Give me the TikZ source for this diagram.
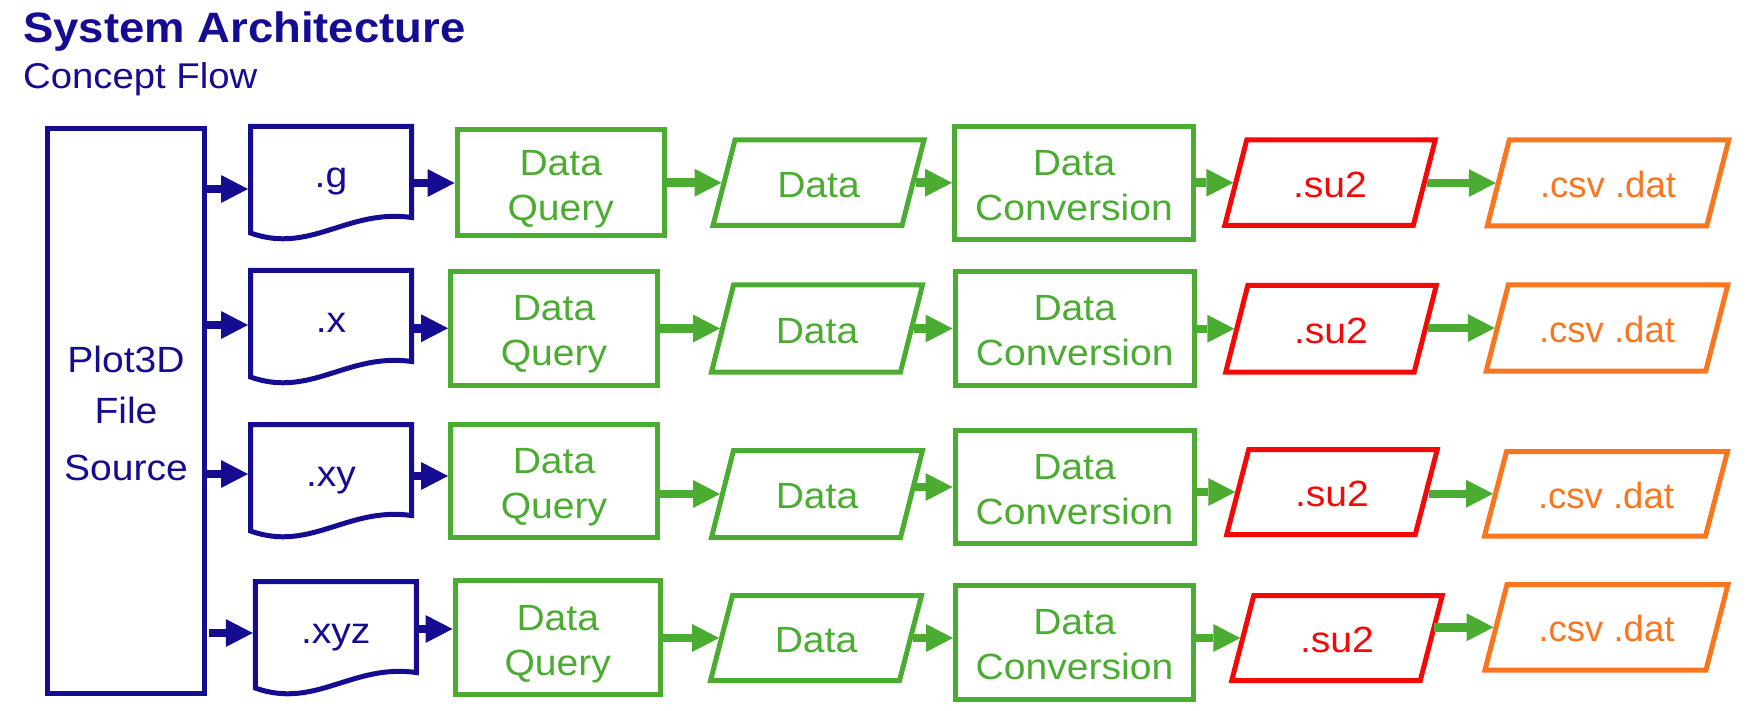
\documentclass[tikz,border=0pt]{standalone}
\usepackage{fontspec}
\setmainfont[FakeStretch=1.07]{Liberation Sans}
\newfontfamily\plainsans{Liberation Sans}
\usetikzlibrary{arrows.meta,calc}
\definecolor{myblue}{RGB}{22,12,145}
\definecolor{mygreen}{RGB}{74,172,48}
\definecolor{myred}{RGB}{245,8,8}
\definecolor{myorange}{RGB}{250,118,30}
\newcommand{\fl}{\rule{0pt}{30pt}}
\begin{document}
\begin{tikzpicture}[x=1pt,y=-1pt,
  boxfont/.style={font=\fontsize{36.5}{45}\selectfont},
  gbox/.style={boxfont, rectangle, draw=mygreen, text=mygreen, line width=5pt, align=center, inner sep=0pt},
  plotbox/.style={rectangle, draw=myblue, text=myblue, line width=5pt, align=center, inner sep=0pt,
    font=\fontsize{36.5}{57}\selectfont, minimum width=157pt, minimum height=564.5pt},
  docn/.style={boxfont, text=myblue, inner sep=0pt, outer sep=0pt, minimum width=161pt, minimum height=91pt,
    text height=32pt, text depth=0pt},
  para/.style={boxfont, inner sep=0pt, outer sep=0pt, text height=29pt, text depth=0pt},
  csvn/.style={para, text=myorange, font=\plainsans\fontsize{36.5}{45}\selectfont},
  docline/.style={draw=myblue, line width=5pt, line join=miter},
  paraline/.style={line width=5pt, line join=miter},
  barr/.style={draw=myblue, line width=8.5pt, -{Triangle[length=27pt,width=28pt,line width=0pt]}},
  garr/.style={draw=mygreen, line width=8.5pt, -{Triangle[length=27pt,width=28pt,line width=0pt]}}
]
\useasboundingbox (0,0) rectangle (1753,711);

% titles
\node[anchor=base west, inner sep=0pt, text=myblue, font=\fontsize{42.5}{50}\selectfont\bfseries] (title) at (23,42.5) {System Architecture};
\node[anchor=base west, inner sep=0pt, text=myblue, font=\fontsize{35.8}{45}\selectfont] (subtitle) at (23,89) {Concept Flow};

% source
\node[plotbox] (plot) at (126,410.75) {\rule{0pt}{32.5pt}Plot3D\\[-6pt]File\\Source};

% documents
\node[docn] (d1) at (331,172) {.g};
\node[docn] (d2) at (331,316) {.x};
\node[docn] (d3) at (331,470) {.xy};
\node[docn] (d4) at (335.75,627) {.xyz};
\foreach \n in {d1,d2,d3,d4}{
  \draw[docline] (\n.south east) -- (\n.north east) -- (\n.north west) -- ($(\n.south west)+(0,15.5)$)
    .. controls ($(\n.south west)+(60,37)$) and ($(\n.south west)+(97,-9)$) .. (\n.south east) -- cycle;
}

% data query
\node[gbox, minimum width=207.5pt, minimum height=106pt] (q1) at (560.75,183) {\fl Data\\\smash{Query}};
\node[gbox, minimum width=207pt, minimum height=113.5pt] (q2) at (554,328.25) {\fl Data\\\smash{Query}};
\node[gbox, minimum width=207pt, minimum height=113pt] (q3) at (554,481) {\fl Data\\\smash{Query}};
\node[gbox, minimum width=205.5pt, minimum height=114pt] (q4) at (557.75,637.5) {\fl Data\\\smash{Query}};

% data
\node[para, text=mygreen, minimum width=189pt, minimum height=85.5pt] (a1) at (818.5,182.75) {Data};
\node[para, text=mygreen, minimum width=189pt, minimum height=87pt] (a2) at (817,328.5) {Data};
\node[para, text=mygreen, minimum width=189pt, minimum height=87pt] (a3) at (817,494) {Data};
\node[para, text=mygreen, minimum width=189pt, minimum height=85pt] (a4) at (816,638) {Data};

% data conversion
\node[gbox, minimum width=239pt, minimum height=113pt] (c1) at (1074,183) {\fl Data\\Conversion};
\node[gbox, minimum width=239.5pt, minimum height=113.5pt] (c2) at (1074.75,328.25) {\fl Data\\Conversion};
\node[gbox, minimum width=239pt, minimum height=113pt] (c3) at (1074.5,487) {\fl Data\\Conversion};
\node[gbox, minimum width=238pt, minimum height=114pt] (c4) at (1074.5,642.5) {\fl Data\\Conversion};

% su2
\node[para, text=myred, minimum width=188.5pt, minimum height=85.5pt] (s1) at (1330,182.75) {.su2};
\node[para, text=myred, minimum width=188.5pt, minimum height=86.5pt] (s2) at (1331,328.75) {.su2};
\node[para, text=myred, minimum width=188.5pt, minimum height=85pt] (s3) at (1332,492) {.su2};
\node[para, text=myred, minimum width=188.5pt, minimum height=85pt] (s4) at (1337,638) {.su2};

% csv dat
\node[csvn, minimum width=219.5pt, minimum height=86pt] (f1) at (1608,183) {.csv .dat};
\node[csvn, minimum width=219.5pt, minimum height=86pt] (f2) at (1607,328) {.csv .dat};
\node[csvn, minimum width=221pt, minimum height=84.5pt] (f3) at (1606,493.75) {.csv .dat};
\node[csvn, minimum width=221pt, minimum height=85.5pt] (f4) at (1606.5,627.25) {.csv .dat};

\foreach \n/\c in {a1/mygreen,a2/mygreen,a3/mygreen,a4/mygreen,s1/myred,s2/myred,s3/myred,s4/myred,f1/myorange,f2/myorange,f3/myorange,f4/myorange}{
  \draw[paraline, draw=\c] ($(\n.south west)+(-11,0)$) -- ($(\n.north west)+(11,0)$) -- ($(\n.north east)+(11,0)$) -- ($(\n.south east)+(-11,0)$) -- cycle;
}

% blue connectors
\coordinate (p1) at ([yshift=-17pt]d1.west);
\coordinate (p2) at ([yshift=-9pt]d2.west);
\coordinate (p3) at ([yshift=-4pt]d3.west);
\coordinate (p4) at ([yshift=-6pt]d4.west);
\draw[barr, shorten >=2.5pt] (plot.east |- p1) -- (p1);
\draw[barr, shorten >=2.5pt] (plot.east |- p2) -- (p2);
\draw[barr, shorten >=2.5pt] (plot.east |- p3) -- (p3);
\draw[barr, shorten >=2.5pt, shorten <=2pt] (plot.east |- p4) -- (p4);
\coordinate (r3) at ([yshift=5pt]q3.west);
\coordinate (r4) at ([yshift=8.5pt]q4.west);
\draw[barr] (d1.east |- q1.west) -- (q1.west);
\draw[barr] (d2.east |- q2.west) -- (q2.west);
\draw[barr] (d3.east |- r3) -- (r3);
\draw[barr] (d4.east |- r4) -- (r4);

% green connectors
\draw[garr, shorten >=2.5pt] (q1.east |- a1.west) -- (a1.west);
\draw[garr, shorten >=2.5pt] (q2.east |- a2.west) -- (a2.west);
\draw[garr, shorten >=2.5pt] (q3.east |- a3.west) -- (a3.west);
\draw[garr, shorten >=2.5pt] (q4.east |- a4.west) -- (a4.west);

\draw[garr, shorten <=2.5pt] (a1.east) -- (c1.west |- a1.east);
\draw[garr, shorten <=2.5pt] (a2.east) -- (c2.west |- a2.east);
\draw[garr, shorten <=2.5pt] (a3.east |- c3.west) -- (c3.west);
\draw[garr, shorten <=2.5pt] (a4.east) -- (c4.west |- a4.east);

\draw[garr, shorten >=2.5pt] (c1.east |- s1.west) -- (s1.west);
\draw[garr, shorten >=2.5pt] (c2.east |- s2.west) -- (s2.west);
\draw[garr, shorten >=2.5pt] (c3.east |- s3.west) -- (s3.west);
\draw[garr, shorten >=2.5pt] (c4.east |- s4.west) -- (s4.west);

\draw[garr, shorten <=2.5pt, shorten >=2.5pt] (s1.east |- f1.west) -- (f1.west);
\draw[garr, shorten <=2.5pt, shorten >=2.5pt] (s2.east |- f2.west) -- (f2.west);
\draw[garr, shorten <=2.5pt, shorten >=2.5pt] (s3.east |- f3.west) -- (f3.west);
\draw[garr, shorten <=2.5pt, shorten >=2.5pt] (s4.east |- f4.west) -- (f4.west);
\end{tikzpicture}
\end{document}
